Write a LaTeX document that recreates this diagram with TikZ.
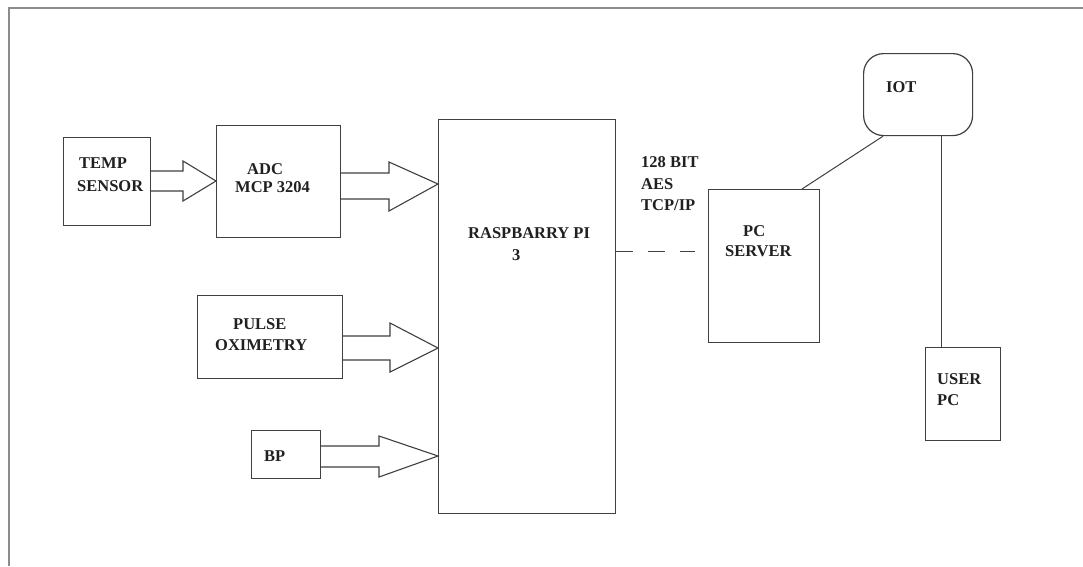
\documentclass[tikz,border=0pt]{standalone}
\usepackage{fontspec}
\setmainfont{Liberation Serif}
\usetikzlibrary{calc}
\definecolor{frame}{HTML}{8C8C8C}
\definecolor{ink}{HTML}{404040}
\definecolor{txt}{HTML}{202020}
\begin{document}
\begin{tikzpicture}[x=1pt,y=-1pt,
  box/.style={draw=ink,line width=1.2pt,fill=white,rectangle,inner sep=0pt,anchor=north west},
  lbl/.style={anchor=base west,inner sep=0pt,text=txt,font=\fontsize{16.5}{19}\selectfont\bfseries},
  fat/.style={draw=ink,line width=1.1pt,fill=white,line join=miter},
  wire/.style={draw=ink,line width=1pt}]
\useasboundingbox (0,0) rectangle (1083,566);
\fill[white] (0,0) rectangle (1083,566);
% frame
\draw[frame,line width=2pt] (9,566) -- (9,8) -- (1083,8);
% boxes
\node[box,minimum width=87pt,minimum height=88pt] (temp) at (63,137) {};
\node[box,minimum width=124pt,minimum height=112pt] (adc) at (216,125) {};
\node[box,minimum width=177pt,minimum height=394pt] (rpi) at (438,119) {};
\node[box,minimum width=145pt,minimum height=83pt] (pulse) at (197,295) {};
\node[box,minimum width=69pt,minimum height=48pt] (bp) at (251,430) {};
\node[box,minimum width=111pt,minimum height=153pt] (server) at (708,189) {};
\node[box,minimum width=109pt,minimum height=82pt,rounded corners=20pt] (iot) at (863,53) {};
\node[box,minimum width=75pt,minimum height=93pt] (user) at (925,347) {};
% labels
\node[lbl] (tTemp) at (79,168) {TEMP};
\node[lbl] (tSensor) at (77,191) {SENSOR};
\node[lbl] (tAdc) at (247,174) {ADC};
\node[lbl] (tMcp) at (235,192) {MCP 3204};
\node[lbl] (tPulse) at (233,329) {PULSE};
\node[lbl] (tOxi) at (215,350) {OXIMETRY};
\node[lbl] (tBp) at (264,461) {BP};
\node[lbl] (tRpi) at (468,238) {RASPBARRY PI};
\node[lbl] (tThree) at (512,260) {3};
\node[lbl] (tBit) at (641,167) {128 BIT};
\node[lbl] (tAes) at (641,189) {AES};
\node[lbl] (tTcp) at (641,210) {TCP/IP};
\node[lbl] (tPc) at (743,236) {PC};
\node[lbl] (tServer) at (725,256) {SERVER};
\node[lbl] (tIot) at (886,92) {IOT};
\node[lbl] (tUser) at (937,384) {USER};
\node[lbl] (tUpc) at (937,405) {PC};
% fat arrows
\draw[fat] (temp.east |- 0,171) -- (183,171) -- (183,161) -- (adc.west |- 0,181)
  -- (183,201) -- (183,191) -- (temp.east |- 0,191);
\draw[fat] (adc.east |- 0,173) -- (389,173) -- (389,162) -- (rpi.west |- 0,184)
  -- (389,211) -- (389,199) -- (adc.east |- 0,199);
\draw[fat] (pulse.east |- 0,336) -- (390,336) -- (390,323) -- (rpi.west |- 0,348)
  -- (390,372) -- (390,360) -- (pulse.east |- 0,360);
\draw[fat] (bp.east |- 0,446) -- (379,446) -- (379,436) -- (rpi.west |- 0,456)
  -- (379,477) -- (379,467) -- (bp.east |- 0,467);
% dashed link
\coordinate (dashEnd) at (695,251);
\draw[wire,dash pattern=on 17pt off 15pt] (rpi.east |- 0,251) -- (dashEnd);
% IOT links
\draw[wire] (iot.south -| 883,0) -- (server.north -| 802,0);
\draw[wire] (iot.south -| 941.5,0) -- (user.north -| 941.5,0);
\end{tikzpicture}
\end{document}
